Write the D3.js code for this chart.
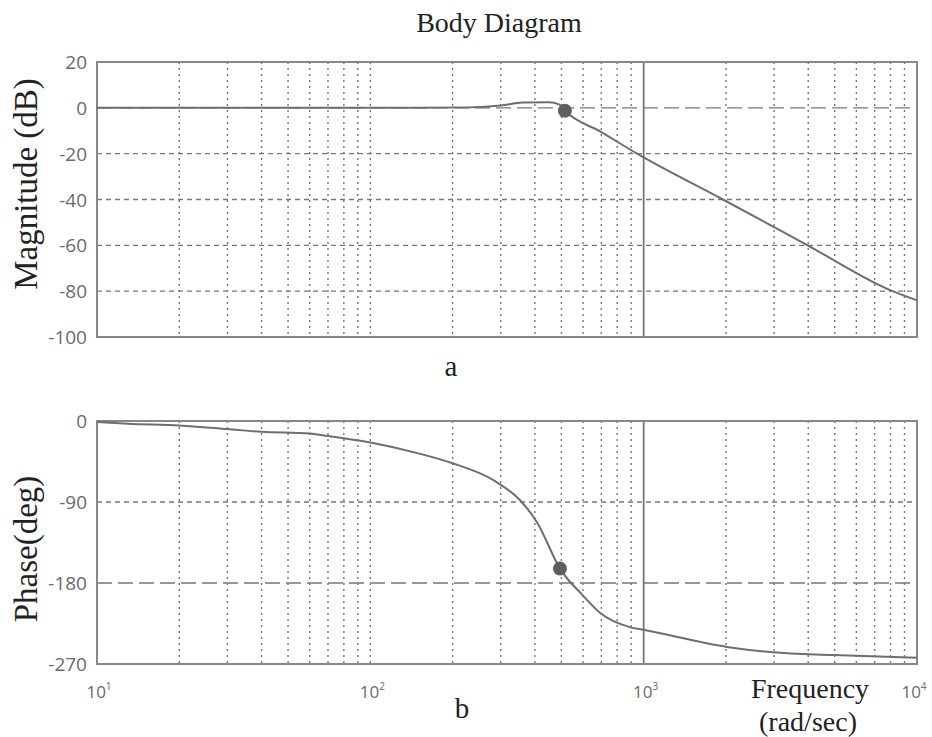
<!DOCTYPE html>
<html>
<head>
<meta charset="utf-8">
<script src="https://cdn.jsdelivr.net/npm/d3@7"></script>
<style>
  body { margin: 0; background: #fff; }
  svg { display: block; }
</style>
</head>
<body>
<svg id="chart" width="932" height="737"></svg>
<script>
// data
var magFreq = [10, 150, 230, 300, 360, 450, 490, 515, 700, 946, 1950, 3980, 8130, 10000];
var magDb   = [0, 0, 0.2, 1.0, 2.3, 2.4, 1.5, -1.3, -10.6, -20, -40, -60, -80, -84];

var phFreq  = [10, 13, 20, 30, 40, 60, 71, 100, 150, 200, 283, 353, 408, 494, 600, 692, 890, 1000, 2018, 2970, 4930, 10000];
var phDeg   = [-1, -3, -5, -9, -12, -14, -17, -24, -36, -47, -66, -88, -113, -164, -194, -213, -229, -232, -251, -257, -260, -263];

var magDot = [515, -1.3];
var phDot  = [494, -164];

var magTicks = [20, 0, -20, -40, -60, -80, -100];
var phTicks  = [0, -90, -180, -270];
var decades  = [1, 2, 3, 4];

var svg = d3.select("#chart");
var grey = "#6e6e6e";

var x = d3.scaleLog().domain([10, 10000]).range([97, 917]);
var yMag = d3.scaleLinear().domain([-100, 20]).range([337, 62]);
var yPh  = d3.scaleLinear().domain([-270, 0]).range([664, 421]);

// minor + decade frequencies for vertical grid
var gridFreq = [];
for (var d = 10; d < 10000; d *= 10) {
    for (var k = 2; k <= 9; k++) gridFreq.push(d * k);
}
gridFreq = gridFreq.concat([100, 1000]);

function panel(y, ticks, longDash, data, dot)
{
    var g = svg.append("g");
    var top = y.range()[1], bot = y.range()[0];

    // vertical dotted grid
    g.selectAll(".vgrid").data(gridFreq).enter().append("line")
        .attr("x1", function (f) { return x(f); })
        .attr("x2", function (f) { return x(f); })
        .attr("y1", top).attr("y2", bot)
        .attr("stroke", "#777")
        .attr("stroke-width", function (f) { return f == 1000 ? 1.8 : 1.4; })
        .attr("stroke-dasharray", function (f) { return f == 1000 ? null : "2,4"; });

    // horizontal grid
    var inner = ticks.slice(1, ticks.length - 1);
    g.selectAll(".hgrid").data(inner).enter().append("line")
        .attr("x1", x.range()[0]).attr("x2", x.range()[1])
        .attr("y1", function (t) { return y(t); })
        .attr("y2", function (t) { return y(t); })
        .attr("stroke", "#777")
        .attr("stroke-width", 1.4)
        .attr("stroke-dasharray", function (t) { return t == longDash ? "15,6" : "5,4"; });

    // frame
    g.append("rect")
        .attr("x", x.range()[0]).attr("y", top)
        .attr("width", x.range()[1] - x.range()[0])
        .attr("height", bot - top)
        .attr("fill", "none").attr("stroke", "#888").attr("stroke-width", 2);

    // tick labels
    g.selectAll(".tl").data(ticks).enter().append("text")
        .attr("x", 87)
        .attr("y", function (t) { return y(t) + 7; })
        .attr("text-anchor", "end")
        .attr("font-family", "Open Sans, sans-serif")
        .attr("font-size", "19px")
        .attr("fill", "#6a6a6a")
        .text(function (t) { return t; });

    // curve
    var line = d3.line()
        .x(function (p) { return x(p[0]); })
        .y(function (p) { return y(p[1]); })
        .curve(d3.curveMonotoneX);
    g.append("path")
        .datum(data)
        .attr("d", line)
        .attr("fill", "none")
        .attr("stroke", grey)
        .attr("stroke-width", 2);

    g.append("circle")
        .attr("cx", x(dot[0])).attr("cy", y(dot[1]))
        .attr("r", 7)
        .attr("fill", "#5e5e5e");
}

panel(yMag, magTicks, 0, d3.zip(magFreq, magDb), magDot);
panel(yPh, phTicks, -180, d3.zip(phFreq, phDeg), phDot);

// x decade labels under the phase plot
var xl = svg.selectAll(".xl").data(decades).enter().append("text")
    .attr("x", function (e) { return x(Math.pow(10, e)) + (e == 4 ? -3 : 2); })
    .attr("y", 698)
    .attr("text-anchor", "middle")
    .attr("font-family", "Open Sans, sans-serif")
    .attr("font-size", "17px")
    .attr("fill", "#6a6a6a");
xl.append("tspan").text("10");
xl.append("tspan").attr("font-size", "10px").attr("dy", -8).text(function (e) { return e; });

var serif = "Liberation Serif, Times New Roman, serif";

svg.append("text").attr("x", 499).attr("y", 32).attr("text-anchor", "middle")
    .attr("font-family", serif).attr("font-size", "28px").attr("fill", "#222")
    .text("Body Diagram");

svg.append("text").attr("transform", "translate(37,184) rotate(-90)")
    .attr("text-anchor", "middle")
    .attr("font-family", serif).attr("font-size", "33px").attr("fill", "#222")
    .text("Magnitude (dB)");

svg.append("text").attr("transform", "translate(37,549) rotate(-90)")
    .attr("text-anchor", "middle")
    .attr("font-family", serif).attr("font-size", "33px").attr("fill", "#222")
    .text("Phase(deg)");

svg.append("text").attr("x", 451).attr("y", 376).attr("text-anchor", "middle")
    .attr("font-family", serif).attr("font-size", "29px").attr("fill", "#222")
    .text("a");

svg.append("text").attr("x", 462).attr("y", 718).attr("text-anchor", "middle")
    .attr("font-family", serif).attr("font-size", "29px").attr("fill", "#222")
    .text("b");

svg.append("text").attr("x", 810).attr("y", 698).attr("text-anchor", "middle")
    .attr("font-family", serif).attr("font-size", "28px").attr("fill", "#222")
    .text("Frequency");

svg.append("text").attr("x", 808).attr("y", 731).attr("text-anchor", "middle")
    .attr("font-family", serif).attr("font-size", "28px").attr("fill", "#222")
    .text("(rad/sec)");
</script>
</body>
</html>
